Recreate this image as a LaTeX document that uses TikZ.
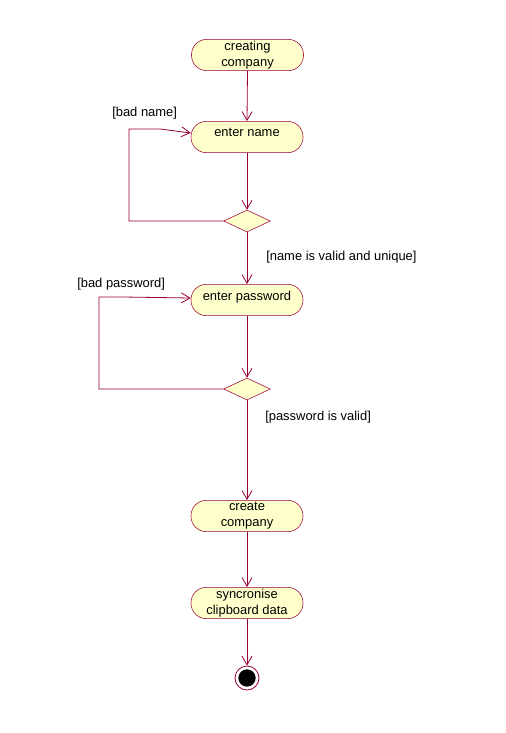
\documentclass[tikz,border=0pt]{standalone}
\usepackage{fontspec}
\setmainfont{Liberation Sans}
\usetikzlibrary{arrows.meta,shapes.geometric}
\definecolor{umlred}{HTML}{990033}
\definecolor{umlfill}{HTML}{FFFFCC}
\begin{document}
\begin{tikzpicture}[x=0.75pt,y=-0.75pt,
  act/.style={draw=umlred,fill=umlfill,rounded corners=11.5pt,minimum width=84pt,minimum height=23.5pt,inner sep=0pt,align=center,font=\fontsize{9.7}{12}\selectfont},
  dec/.style={draw=umlred,fill=umlfill,diamond,minimum width=35pt,minimum height=16.5pt,inner sep=0pt},
  flow/.style={draw=umlred,line width=0.6pt,-{Straight Barb[length=6.5pt,width=7.5pt,line width=0.6pt]}},
  guard/.style={font=\fontsize{9.7}{12}\selectfont,inner sep=0pt,anchor=west}]
\useasboundingbox (0,0) rectangle (506,733);
\node[act] (cc) at (247.5,55) {creating\\company};
\node[act] (en) at (247,137) {\raisebox{6.5pt}{enter name}};
\node[dec] (d1) at (247,221) {};
\node[act] (ep) at (247,300) {\raisebox{6.5pt}{enter password}};
\node[dec] (d2) at (247,389) {};
\node[act] (cr) at (247,516) {create\\company};
\node[act] (sy) at (247,603) {syncronise\\clipboard data};
\node[circle,draw=umlred,fill=white,minimum size=18pt,inner sep=0pt,line width=0.6pt] (endo) at (247,678) {};
\node[circle,fill=black,minimum size=13pt,inner sep=0pt] (endi) at (247,678) {};
\node[guard] (g1) at (112,113) {[bad name]};
\node[guard] (g2) at (266,257) {[name is valid and unique]};
\node[guard] (g3) at (77,284) {[bad password]};
\node[guard] (g4) at (265,417) {[password is valid]};
\coordinate (a1) at (129,221);
\coordinate (a2) at (129,129);
\coordinate (a3) at (160,129);
\coordinate (b1) at (99,389);
\coordinate (b2) at (99,297);
\coordinate (b3) at (123,297);
\draw[flow] (cc.south) -- (en.north);
\draw[flow] (en.south) -- (d1.north);
\draw[flow] (d1.west) -- (a1) -- (a2) -- (a3) -- ([yshift=3pt]en.west);
\draw[flow] (d1.south) -- (ep.north);
\draw[flow] (ep.south) -- (d2.north);
\draw[flow] (d2.west) -- (b1) -- (b2) -- (b3) -- ([yshift=1.5pt]ep.west);
\draw[flow] (d2.south) -- (cr.north);
\draw[flow] (cr.south) -- (sy.north);
\draw[flow] (sy.south) -- (endo.north);
\end{tikzpicture}
\end{document}
